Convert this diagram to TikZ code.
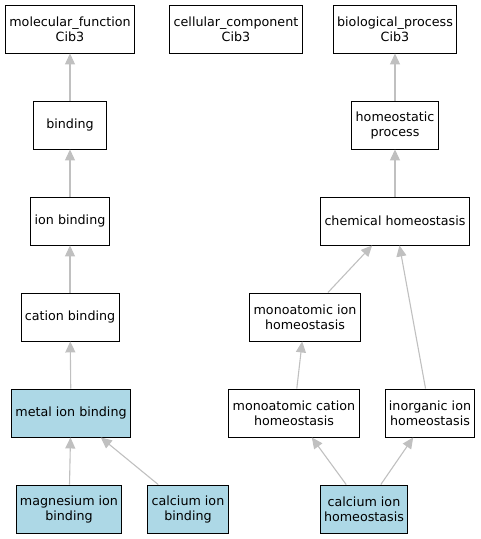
\documentclass[tikz,border=0pt]{standalone}
\usepackage{fontspec}
\setmainfont{DejaVu Sans}
\usetikzlibrary{arrows.meta}
\definecolor{hitblue}{RGB}{173,216,230}
\definecolor{isagray}{RGB}{192,192,192}
\tikzset{
  >={Triangle[length=11pt,width=10pt]},
}
\tikzstyle{term}=[draw=black,line width=0.9pt,fill=white,align=center,minimum height=48pt,minimum width=73pt,inner xsep=3.8pt,font=\fontsize{12.7}{15}\selectfont]
\tikzstyle{hit}=[term,fill=hitblue]
\tikzstyle{isa}=[->,isagray,line width=1.1pt]

\begin{document}
\begin{tikzpicture}[x=1pt,y=-1pt]
    \useasboundingbox (0,0) rectangle (481,539);
    % roots
    \node[term] (mf) at (70,29) {molecular\_function\\Cib3};
    \node[term] (cc) at (236,29) {cellular\_component\\Cib3};
    \node[term] (bp) at (395,29) {biological\_process\\Cib3};
    % molecular function branch
    \node[term] (bind) at (70,125) {binding};
    \node[term] (ionb) at (70,221) {ion binding};
    \node[term] (catb) at (70,317) {cation binding};
    \node[hit] (metb) at (71,413) {metal ion binding};
    \node[hit] (mgb) at (69,509) {magnesium ion\\binding};
    \node[hit] (cab) at (188,509) {calcium ion\\binding};
    % biological process branch
    \node[term] (homp) at (395,125) {homeostatic\\process};
    \node[term] (chemh) at (395,221) {chemical homeostasis};
    \node[term] (monoh) at (305,317) {monoatomic ion\\homeostasis};
    \node[term] (cath) at (294,413) {monoatomic cation\\homeostasis};
    \node[term] (inoh) at (430,413) {inorganic ion\\homeostasis};
    \node[hit] (cah) at (364,509) {calcium ion\\homeostasis};

    \draw[isa] (bind)--(mf);
    \draw[isa] (ionb)--(bind);
    \draw[isa] (catb)--(ionb);
    \draw[isa] (metb)--(catb);
    \draw[isa] (mgb)--(metb);
    \draw[isa] (cab)--(metb);

    \draw[isa] (homp)--(bp);
    \draw[isa] (chemh)--(homp);
    \draw[isa] (monoh)--(chemh);
    \draw[isa] (inoh)--(chemh);
    \draw[isa] (cath)--(monoh);
    \draw[isa] (cah)--(cath);
    \draw[isa] (cah)--(inoh);
\end{tikzpicture}
\end{document}
